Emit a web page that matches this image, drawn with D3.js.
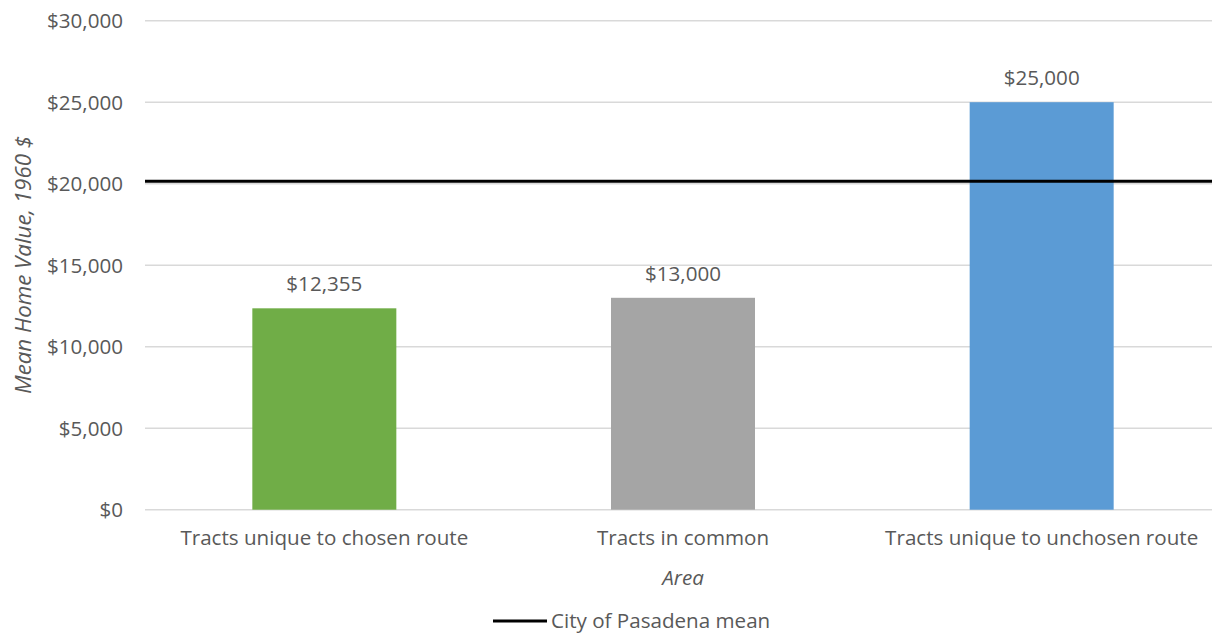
<!DOCTYPE html>
<html><head><meta charset="utf-8">
<script src="https://cdn.jsdelivr.net/npm/d3@7"></script>
<style>body{margin:0;background:#fff}svg{display:block}text{font-family:"Open Sans",sans-serif;fill:#595959}</style>
</head><body><svg id="c" width="1212" height="635"></svg>
<script>
const categories = ["Tracts unique to chosen route","Tracts in common","Tracts unique to unchosen route"];
const values = [12355, 13000, 25000];
const valueLabels = ["$12,355","$13,000","$25,000"];
const barColors = ["#70ad47","#a5a5a5","#5b9bd5"];
const cityMean = 20150;
const yTicks = [0,5000,10000,15000,20000,25000,30000];
const legendLabel = "City of Pasadena mean";

const FS = 20.6;
const svg = d3.select("#c");
const x = d3.scaleBand().domain(categories).range([145, 1221]).paddingInner(0.6).paddingOuter(0.3);
const y = d3.scaleLinear().domain([0,30000]).range([509.7, 20.7]);
const fmt = d => "$" + d3.format(",")(d);

// gridlines
svg.append("g").selectAll("line").data(yTicks).join("line")
  .attr("x1",145).attr("x2",1212).attr("y1",d=>y(d)).attr("y2",d=>y(d))
  .attr("stroke","#d9d9d9").attr("stroke-width",1.5);

// y axis tick labels
const yAxis = d3.axisLeft(y).tickValues(yTicks).tickFormat(fmt).tickSize(0).tickPadding(0);
const ga = svg.append("g").attr("transform","translate(123,0)").call(yAxis);
ga.select(".domain").remove();
ga.selectAll("text").attr("font-size",FS).style("font-family","Open Sans, sans-serif").attr("fill","#595959").attr("dy","0.35em");

// bars
const bw = 144;
svg.append("g").selectAll("rect").data(values).join("rect")
  .attr("x",(d,i)=>x(categories[i]) + x.bandwidth()/2 - bw/2)
  .attr("width",bw)
  .attr("y",d=>y(d)).attr("height",d=>y(0)-y(d))
  .attr("fill",(d,i)=>barColors[i]);

// value labels
svg.append("g").selectAll("text").data(values).join("text")
  .attr("x",(d,i)=>x(categories[i]) + x.bandwidth()/2)
  .attr("y",d=>y(d)-17).attr("text-anchor","middle").attr("font-size",FS)
  .text((d,i)=>valueLabels[i]);

// mean line
svg.append("line").attr("x1",145).attr("x2",1212).attr("y1",y(cityMean)).attr("y2",y(cityMean))
  .attr("stroke","#000").attr("stroke-width",3);

// x axis category labels
const xAxis = d3.axisBottom(x).tickSize(0).tickPadding(0);
const gx = svg.append("g").attr("transform","translate(0,530)").call(xAxis);
gx.select(".domain").remove();
gx.selectAll("text").attr("font-size",FS).style("font-family","Open Sans, sans-serif").attr("fill","#595959");

// axis titles
svg.append("text").attr("x",683).attr("y",585).attr("text-anchor","middle")
  .attr("font-size",FS).attr("font-style","italic").text("Area");
svg.append("text").attr("transform","translate(31,265) rotate(-90)").attr("text-anchor","middle")
  .attr("font-size",22.3).attr("font-style","italic").text("Mean Home Value, 1960 $");

// legend
svg.append("line").attr("x1",493).attr("x2",547).attr("y1",621).attr("y2",621).attr("stroke","#000").attr("stroke-width",3);
svg.append("text").attr("x",551).attr("y",628).attr("font-size",FS).text(legendLabel);
</script></body></html>
